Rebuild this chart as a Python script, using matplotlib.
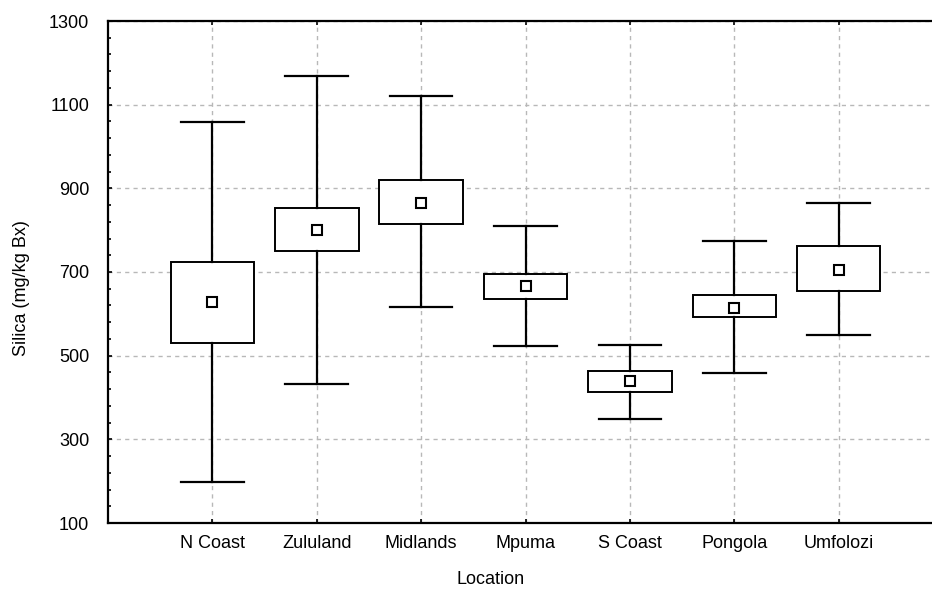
import matplotlib.pyplot as plt
from matplotlib.ticker import MultipleLocator

plt.rcParams['font.family'] = ['Liberation Sans', 'DejaVu Sans']
plt.rcParams['font.size'] = 13

# Data
locations = ['N Coast', 'Zululand', 'Midlands', 'Mpuma', 'S Coast', 'Pongola', 'Umfolozi']
means = [628, 800, 866, 667, 439, 614, 704]
box_low = [531, 750, 815, 636, 412, 592, 654]
box_high = [725, 852, 920, 696, 464, 644, 763]
whisk_low = [198, 432, 617, 523, 349, 459, 549]
whisk_high = [1058, 1169, 1121, 809, 526, 774, 864]

stats = []
for i in range(len(locations)):
    stats.append({
        'label': locations[i],
        'whislo': whisk_low[i],
        'q1': box_low[i],
        'med': means[i],
        'q3': box_high[i],
        'whishi': whisk_high[i],
        'mean': means[i],
    })

fig = plt.figure(figsize=(9.32, 5.91), dpi=100)
ax = fig.add_axes([108 / 932, 68 / 591, 835 / 932, 502 / 591])

positions = list(range(1, len(locations) + 1))
ax.bxp(stats, positions=positions, widths=0.8, showmeans=True, showfliers=False,
       patch_artist=True,
       boxprops=dict(facecolor='white', edgecolor='black', linewidth=1.4),
       whiskerprops=dict(color='black', linewidth=1.6),
       capprops=dict(color='black', linewidth=1.6),
       capwidths=0.6,
       medianprops=dict(linewidth=0),
       meanprops=dict(marker='s', markersize=6.5, markerfacecolor='white',
                      markeredgecolor='black', markeredgewidth=1.5),
       zorder=3)

ax.set_xlim(0, 8)
ax.set_ylim(100, 1300)
ax.set_xticks(positions)
ax.set_xticklabels(locations)
ax.yaxis.set_major_locator(MultipleLocator(200, offset=100))
ax.yaxis.set_minor_locator(MultipleLocator(40, offset=20))

ax.grid(True, which='major', color='#b8b8b8', linestyle=(0, (3, 3)), linewidth=1, zorder=0)
ax.set_axisbelow(True)

ax.tick_params(axis='both', which='both', direction='in', width=1.2, length=3)
ax.tick_params(axis='x', top=True, pad=9)
ax.tick_params(axis='y', which='minor', length=2.5)
ax.tick_params(axis='y', pad=13.5)

for side in ['left', 'top', 'bottom']:
    ax.spines[side].set_linewidth(1.6)
ax.spines['right'].set_visible(False)

fig.text(491 / 932, 1 - 580 / 591, 'Location', ha='center', va='center')
fig.text(22 / 932, 1 - 288 / 591, 'Silica (mg/kg Bx)', ha='center', va='center', rotation=90)

fig.savefig('out.png', dpi=100)
